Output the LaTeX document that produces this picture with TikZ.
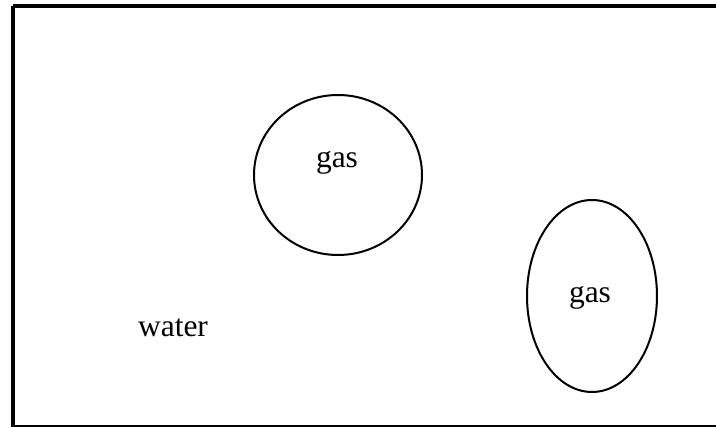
\documentclass[tikz,border=0pt]{standalone}
\usepackage{fontspec}
\setmainfont{Liberation Serif}
\usetikzlibrary{shapes.geometric}
\begin{document}
\begin{tikzpicture}[x=1pt,y=-1pt,
  bubble/.style={draw,line width=2pt,ellipse,inner sep=0pt},
  lbl/.style={font=\fontsize{31.5}{36}\selectfont,inner sep=0pt}]
\useasboundingbox (0,0) rectangle (716,427);
\begin{scope}
\clip (0,0) rectangle (716,427);
\draw[line width=4pt] (13,6) -- (740,6);
\draw[line width=4pt] (13,6) -- (13,440);
\draw[line width=4pt] (13,427) -- (740,427);
\end{scope}
\node[bubble,minimum width=168pt,minimum height=160pt] (g1) at (338,175) {};
\node[lbl] (t1) at (337,163) {gas};
\node[bubble,minimum width=130pt,minimum height=192pt] (g2) at (592,296) {};
\node[lbl] (t2) at (590,298) {gas};
\node[lbl] (w) at (173,328) {water};
\end{tikzpicture}
\end{document}
